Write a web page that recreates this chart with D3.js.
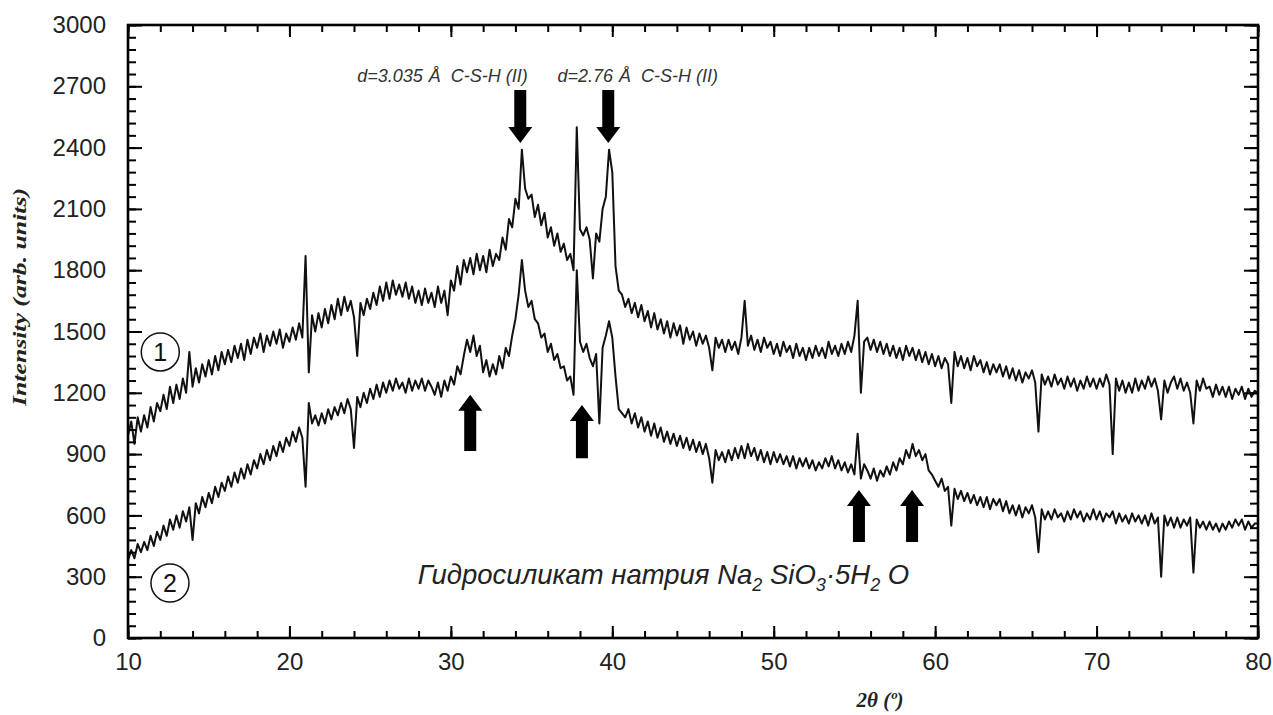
<!DOCTYPE html>
<html>
<head>
<meta charset="utf-8">
<script src="https://cdn.jsdelivr.net/npm/d3@7"></script>
<style>
body{margin:0;background:#fff;}
svg text{font-family:"Liberation Sans",Arial,sans-serif;}
.tick text{font-size:24px;fill:#222;}
.axis path{display:none;}
.axis line{stroke:#000;stroke-width:2;}
.curve{fill:none;stroke:#111;stroke-width:2;stroke-linejoin:round;}
</style>
</head>
<body>
<svg id="chart" width="1273" height="715"></svg>
<script>
// 2theta grid: 10..80, step 0.2
var xStart = 10, xStep = 0.2;

var pattern1 = [
990,1060,950,1080,1010, 1090,1030,1130,1060,1150, 1110,1190,1120,1230,1150, 1240,1170,1270,1200,1400,
1230,1320,1250,1340,1280, 1360,1290,1380,1310,1400, 1340,1410,1350,1430,1370, 1440,1360,1460,1390,1470,
1420,1490,1400,1480,1430, 1500,1440,1510,1420,1490, 1450,1520,1460,1540,1470, 1870,1300,1580,1500,1590,
1520,1610,1540,1630,1560, 1660,1580,1670,1600,1650, 1570,1380,1640,1580,1660, 1610,1690,1630,1720,1650,
1740,1660,1750,1680,1730, 1670,1740,1660,1720,1640, 1700,1630,1710,1640,1690, 1620,1720,1640,1700,1580,
1750,1700,1820,1730,1850, 1790,1860,1780,1880,1800, 1870,1790,1900,1820,1880, 1850,1960,1900,2050,2010,
2150,2100,2390,2200,2150, 2170,2060,2120,2020,2080, 1960,2010,1920,1980,1890, 1930,1850,1880,1800,2500,
2000,1970,2010,1950,1760, 1980,1940,2100,2160,2390, 2280,1820,1700,1680,1620, 1660,1590,1640,1570,1630,
1550,1600,1520,1590,1510, 1560,1490,1550,1470,1540, 1480,1530,1440,1520,1460, 1500,1430,1490,1440,1480,
1420,1310,1470,1420,1460, 1400,1460,1410,1450,1390, 1470,1650,1430,1480,1410, 1460,1400,1470,1420,1450,
1390,1440,1380,1450,1400, 1430,1370,1440,1380,1420, 1360,1420,1370,1430,1380, 1420,1370,1450,1390,1430,
1380,1440,1390,1450,1400, 1480,1650,1200,1450,1470, 1410,1460,1400,1450,1390, 1440,1380,1430,1370,1420,
1360,1430,1380,1420,1360, 1410,1350,1400,1340,1390, 1330,1380,1320,1370,1340, 1150,1400,1330,1380,1320,
1370,1310,1380,1330,1360, 1300,1350,1290,1340,1300, 1340,1280,1330,1270,1320, 1260,1310,1250,1300,1270,
1310,1250,1010,1290,1240, 1280,1230,1290,1240,1270, 1220,1280,1230,1270,1210, 1260,1220,1280,1230,1270,
1220,1270,1230,1290,1240, 900,1270,1210,1260,1200, 1250,1200,1270,1210,1260, 1220,1280,1230,1270,1210,
1070,1260,1200,1250,1280, 1220,1270,1210,1250,1200, 1050,1260,1210,1270,1220, 1230,1180,1240,1190,1230,
1180,1230,1170,1220,1190, 1230,1170,1220,1180,1210, 1200
];

var pattern2 = [
380,430,390,460,420, 470,430,500,450,520, 480,550,500,580,530, 600,540,620,570,640,
480,660,610,690,640, 710,660,740,690,760, 720,790,740,810,760, 830,780,850,800,870,
830,900,850,920,870, 940,890,960,910,980, 940,1010,960,1030,980, 740,1150,1050,1090,1040,
1100,1050,1120,1070,1130, 1090,1150,1100,1170,1120, 930,1180,1130,1200,1150, 1220,1170,1240,1180,1250,
1200,1260,1210,1270,1220, 1250,1200,1270,1210,1260, 1220,1270,1210,1260,1230, 1190,1250,1180,1260,1210,
1280,1240,1330,1290,1380, 1460,1400,1480,1380,1430, 1300,1360,1280,1340,1290, 1380,1320,1420,1380,1480,
1560,1680,1850,1700,1620, 1650,1560,1540,1470,1490, 1400,1440,1360,1390,1320, 1330,1260,1280,1190,1800,
1450,1400,1440,1370,1330, 1390,1050,1420,1480,1550, 1470,1280,1120,1100,1080, 1120,1050,1100,1030,1080,
1010,1060,990,1050,980, 1030,960,1010,950,1000, 940,990,930,980,920, 970,910,960,900,950,
880,760,920,870,910, 860,920,870,930,880, 940,880,950,890,930, 870,920,860,910,850,
910,860,900,850,890, 840,890,830,880,840, 880,830,870,820,860, 830,880,840,890,830,
870,820,860,810,850, 800,1000,780,850,820, 780,830,770,820,790, 840,800,860,820,880,
850,920,880,950,890, 920,870,900,820,800, 770,740,780,720,740, 550,730,680,720,670,
710,660,700,650,690, 640,690,630,680,650, 680,620,670,610,650, 600,650,590,640,610,
650,590,420,630,580, 620,580,630,590,610, 570,620,580,630,590, 620,570,610,580,630,
580,620,570,610,590, 620,560,610,570,600, 560,610,570,600,560, 600,550,610,560,590,
300,600,550,590,540, 590,540,580,550,590, 320,580,540,570,530, 570,530,560,520,560,
530,570,540,580,550, 580,530,570,540,560, 560
];

var xTicks = [10,20,30,40,50,60,70,80];
var yTicks = [0,300,600,900,1200,1500,1800,2100,2400,2700,3000];

// arrows: [2theta, tip value, tail value]
var arrowsDown = [[34.3,2423,2682],[39.75,2423,2682]];
var arrowsUp = [[31.2,1190,915],[38.12,1140,880],[55.28,724,470],[58.57,724,470]];

var svg = d3.select("#chart");
var pLeft = 128, pRight = 1258, pTop = 25, pBottom = 638;

var x = d3.scaleLinear().domain([10,80]).range([pLeft,pRight]);
var y = d3.scaleLinear().domain([0,3000]).range([pBottom,pTop]);

function toPts(arr){
	return arr.map(function(v,i){ return [xStart + i*xStep, v]; });
}

var line = d3.line()
	.x(function(d){ return x(d[0]); })
	.y(function(d){ return y(d[1]); });

svg.append("path").attr("class","curve").attr("d",line(toPts(pattern1)));
svg.append("path").attr("class","curve").attr("d",line(toPts(pattern2)));

// axes, ticks pointing inward on all four sides
var minorX = d3.range(10,80.1,2);
var minorY = d3.range(0,3001,60);

svg.append("g").attr("class","axis").attr("transform","translate(0,"+pBottom+")")
	.call(d3.axisBottom(x).tickValues(minorX).tickSize(-7).tickFormat(""));
svg.append("g").attr("class","axis").attr("transform","translate(0,"+pBottom+")")
	.call(d3.axisBottom(x).tickValues(xTicks).tickSize(-12).tickPadding(15).tickFormat(d3.format("d")));
svg.append("g").attr("class","axis").attr("transform","translate(0,"+pTop+")")
	.call(d3.axisTop(x).tickValues(minorX).tickSize(-7).tickFormat(""));
svg.append("g").attr("class","axis").attr("transform","translate(0,"+pTop+")")
	.call(d3.axisTop(x).tickValues(xTicks).tickSize(-12).tickFormat(""));

svg.append("g").attr("class","axis").attr("transform","translate("+pLeft+",0)")
	.call(d3.axisLeft(y).tickValues(minorY).tickSize(-8).tickFormat(""));
svg.append("g").attr("class","axis").attr("transform","translate("+pLeft+",0)")
	.call(d3.axisLeft(y).tickValues(yTicks).tickSize(-14).tickPadding(22).tickFormat(d3.format("d")));
svg.append("g").attr("class","axis").attr("transform","translate("+pRight+",0)")
	.call(d3.axisRight(y).tickValues(minorY).tickSize(-8).tickFormat(""));
svg.append("g").attr("class","axis").attr("transform","translate("+pRight+",0)")
	.call(d3.axisRight(y).tickValues(yTicks).tickSize(-14).tickFormat(""));

svg.append("rect")
	.attr("x",pLeft).attr("y",pTop)
	.attr("width",pRight-pLeft).attr("height",pBottom-pTop)
	.attr("fill","none").attr("stroke","#000").attr("stroke-width",2.6);

// axis titles
svg.append("text")
	.attr("transform","translate(26,297) rotate(-90)")
	.attr("text-anchor","middle")
	.attr("textLength",218).attr("lengthAdjust","spacingAndGlyphs")
	.style("font-family","'Liberation Serif','Times New Roman',serif")
	.style("font-weight","bold").style("font-style","italic")
	.style("font-size","18px").attr("fill","#222")
	.text("Intensity (arb. units)");

svg.append("text")
	.attr("x",880).attr("y",707)
	.attr("text-anchor","middle")
	.style("font-family","'Liberation Serif','Times New Roman',serif")
	.style("font-weight","bold").style("font-style","italic")
	.style("font-size","21px").attr("fill","#222")
	.text("2θ (º)");

// arrows
function arrowPath(cx, yTip, yTail){
	var dir = yTail < yTip ? 1 : -1; // 1 = pointing down
	var head = 16 * dir, hw = 12, sw = 6;
	var yb = yTip - head;
	return "M"+(cx-sw)+","+yTail+"L"+(cx+sw)+","+yTail+"L"+(cx+sw)+","+yb+
		"L"+(cx+hw)+","+yb+"L"+cx+","+yTip+"L"+(cx-hw)+","+yb+"L"+(cx-sw)+","+yb+"Z";
}
svg.selectAll(".arrow").data(arrowsDown.concat(arrowsUp)).enter()
	.append("path").attr("class","arrow")
	.attr("d",function(d){ return arrowPath(x(d[0]), y(d[1]), y(d[2])); })
	.attr("fill","#000");

// peak labels
function peakLabel(xv, d){
	var t = svg.append("text").attr("x",x(xv)).attr("y",82)
		.style("font-style","italic").style("font-size","18px").attr("fill","#333");
	t.append("tspan").text(d);
	t.append("tspan").text("Å").attr("dx",1);
	t.append("tspan").text("  C-S-H (II)").attr("xml:space","preserve");
}
peakLabel(24.2, "d=3.035 ");
peakLabel(36.6, "d=2.76 ");

// circled curve numbers
var markers = [[12.0,1400,"1"],[12.6,269,"2"]];
var mg = svg.selectAll(".mark").data(markers).enter().append("g").attr("class","mark")
	.attr("transform",function(d){ return "translate("+x(d[0])+","+y(d[1])+")"; });
mg.append("circle").attr("r",19).attr("fill","#fff").attr("stroke","#111").attr("stroke-width",1.5);
mg.append("text").attr("text-anchor","middle").attr("dy","0.36em")
	.style("font-size","25px").attr("fill","#111").text(function(d){ return d[2]; });

// compound label
var ct = svg.append("text").attr("x",x(27.95)).attr("y",y(265))
	.style("font-style","italic").style("font-size","27.5px").attr("fill","#222");
ct.append("tspan").text("Гидросиликат натрия Na");
ct.append("tspan").text("2").attr("dy",7).style("font-size","18px");
ct.append("tspan").text(" SiO").attr("dy",-7);
ct.append("tspan").text("3").attr("dy",7).style("font-size","18px");
ct.append("tspan").text("·5H").attr("dy",-7);
ct.append("tspan").text("2").attr("dy",7).style("font-size","18px");
ct.append("tspan").text(" O").attr("dy",-7);
</script>
</body>
</html>
